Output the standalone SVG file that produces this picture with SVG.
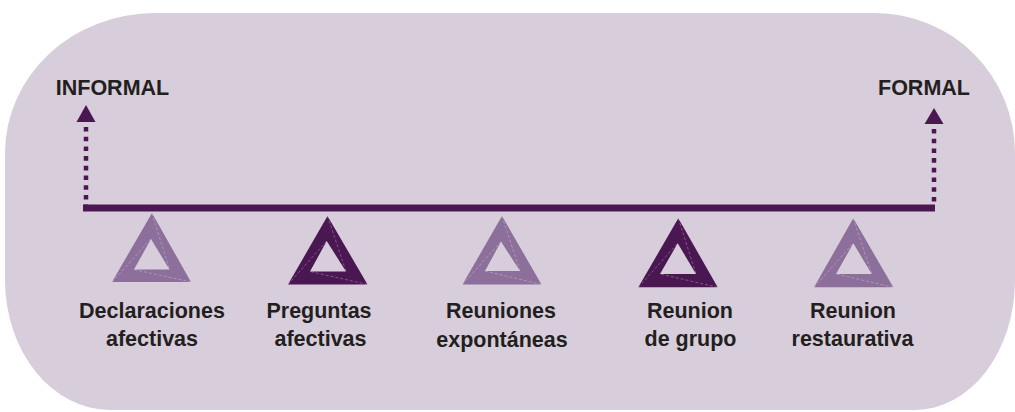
<svg xmlns="http://www.w3.org/2000/svg" width="1015" height="412" viewBox="0 0 1015 412">
  <style>
    .bg { fill: #d8cdda; }
    .bar { fill: #4b1752; }
    .dots { stroke: #4b1752; stroke-width: 4.5; stroke-dasharray: 4.6 5.1; fill: none; }
    .head { fill: #4b1752; }
    .tri-light { fill: #8c6f9a; fill-rule: evenodd; }
    .tri-dark { fill: #4b1752; fill-rule: evenodd; }
    .facet { stroke: #ffffff; stroke-opacity: 0.35; stroke-width: 0.8; stroke-dasharray: 3 2; fill: none; }
    .title { font-family: "Liberation Sans", Arial, sans-serif; font-weight: bold; font-size: 21.5px; fill: #231f20; text-anchor: middle; }
    .label { font-family: "Liberation Sans", Arial, sans-serif; font-weight: bold; font-size: 21.5px; fill: #231f20; text-anchor: middle; }
  </style>

  <path class="bg" d="M 155,13 H 875 A 140,140 0 0 1 1015,153 V 280 A 100,130 0 0 1 915,410 H 110 A 105,130 0 0 1 5,280 V 153 A 150,140 0 0 1 155,13 Z"/>

  <g id="connectors">
    <rect class="bar" x="83" y="204.5" width="852" height="7"/>
    <line class="dots" x1="86" y1="127" x2="86" y2="205"/>
    <polygon class="head" points="86,105 76.5,122 95.5,122"/>
    <line class="dots" x1="934" y1="129" x2="934" y2="205"/>
    <polygon class="head" points="934,108 924.5,124 943.5,124"/>
  </g>

  <g id="informal">
    <text class="title" x="112.5" y="94.5">INFORMAL</text>
  </g>
  <g id="formal">
    <text class="title" x="924" y="94.5">FORMAL</text>
  </g>

  <g id="declaraciones-afectivas">
    <path class="tri-light" d="M152,213 L112,282 L191,282 Z M151,239 L134,269.5 L169.5,269.5 Z"/>
    <path class="facet" d="M152,213 L169.5,269.5 M112,282 L151,239 M191,282 L134,269.5"/>
    <text class="label" x="152" y="318">Declaraciones</text>
    <text class="label" x="152" y="346">afectivas</text>
  </g>

  <g id="preguntas-afectivas">
    <path class="tri-dark" d="M327.5,216 L288,284.5 L367.5,284.5 Z M326.7,241 L310,271.5 L346,271.5 Z"/>
    <path class="facet" d="M327.5,216 L346,271.5 M288,284.5 L326.7,241 M367.5,284.5 L310,271.5"/>
    <text class="label" x="319" y="318">Preguntas</text>
    <text class="label" x="320.5" y="346">afectivas</text>
  </g>

  <g id="reuniones-expontaneas">
    <path class="tri-light" d="M502,216 L462.5,284.5 L541.5,284.5 Z M501,241.5 L485,271 L520,271 Z"/>
    <path class="facet" d="M502,216 L520,271 M462.5,284.5 L501,241.5 M541.5,284.5 L485,271"/>
    <text class="label" x="501" y="318">Reuniones</text>
    <text class="label" x="502" y="346.5">expontáneas</text>
  </g>

  <g id="reunion-de-grupo">
    <path class="tri-dark" d="M678.3,218.3 L638.3,287.3 L717.7,287.3 Z M677.7,243.3 L660,274 L696,274 Z"/>
    <path class="facet" d="M678.3,218.3 L696,274 M638.3,287.3 L677.7,243.3 M717.7,287.3 L660,274"/>
    <text class="label" x="690" y="318">Reunion</text>
    <text class="label" x="690.5" y="346">de grupo</text>
  </g>

  <g id="reunion-restaurativa">
    <path class="tri-light" d="M853.3,218.3 L814,287.3 L893.3,287.3 Z M853.3,243.3 L836,274 L871.7,274 Z"/>
    <path class="facet" d="M853.3,218.3 L871.7,274 M814,287.3 L853.3,243.3 M893.3,287.3 L836,274"/>
    <text class="label" x="853" y="318">Reunion</text>
    <text class="label" x="852.5" y="346">restaurativa</text>
  </g>
</svg>
